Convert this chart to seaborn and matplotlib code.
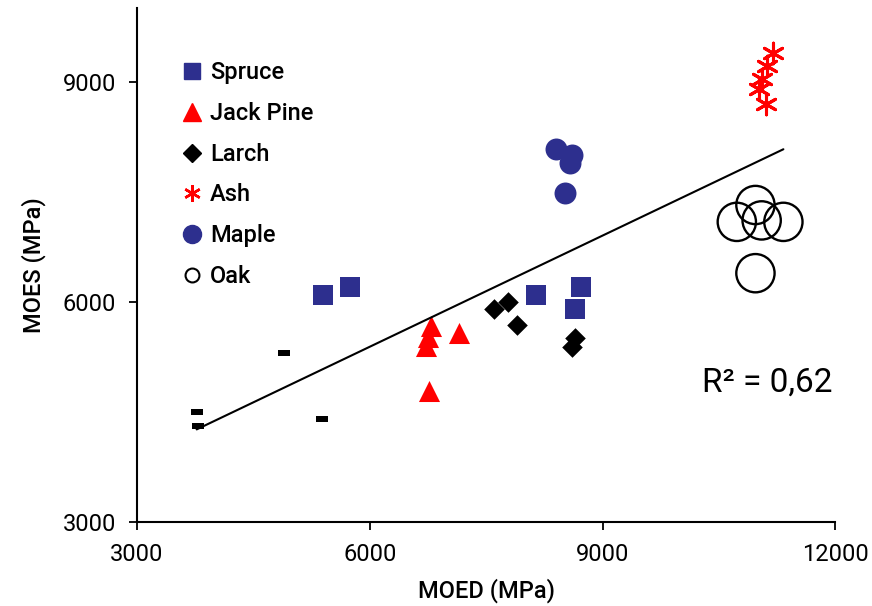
import numpy as np
import pandas as pd
import matplotlib
matplotlib.use("Agg")
import matplotlib.pyplot as plt
from matplotlib.lines import Line2D
import seaborn as sns

# values (MPa)
spruce_x = [5400, 5740, 8140, 8720, 8640]
spruce_y = [6090, 6200, 6090, 6200, 5900]
jackpine_x = [6790, 6750, 6730, 7150, 6770]
jackpine_y = [5670, 5520, 5400, 5570, 4780]
larch_x = [7600, 7780, 7900, 8640, 8610]
larch_y = [5900, 6000, 5690, 5500, 5390]
ash_x = [11190, 11120, 11060, 11010, 11110]
ash_y = [9390, 9210, 9040, 8900, 8700]
maple_x = [8400, 8610, 8580, 8520]
maple_y = [8080, 8000, 7890, 7480]
oak_x = [10970, 10730, 11050, 11330, 10970]
oak_y = [7320, 7090, 7110, 7090, 6390]
other_x = [3770, 3790, 4900, 5380]
other_y = [4500, 4300, 5300, 4400]

x_ticks = [3000, 6000, 9000, 12000]
y_ticks = [3000, 6000, 9000]
r2_label = "R\u00b2 = 0,62"

navy = "#2D2F8E"
red = "#FF0000"

sns.set_style("ticks")
plt.rcParams["font.family"] = ["Roboto", "DejaVu Sans"]
plt.rcParams["text.color"] = "black"
plt.rcParams["axes.labelcolor"] = "black"

fig, ax = plt.subplots(figsize=(8.72, 6.06), dpi=100)
fig.subplots_adjust(left=0.157, right=0.958, bottom=0.139, top=0.986)

# all points together for the regression line
all_df = pd.DataFrame({
    "MOED": spruce_x + jackpine_x + larch_x + ash_x + maple_x + oak_x + other_x,
    "MOES": spruce_y + jackpine_y + larch_y + ash_y + maple_y + oak_y + other_y,
})
sns.regplot(data=all_df, x="MOED", y="MOES", scatter=False, ci=None,
            truncate=True, color="black", line_kws={"linewidth": 1.5}, ax=ax)

dash = [(-1, -0.5), (1, -0.5), (1, 0.5), (-1, 0.5), (-1, -0.5)]
sns.scatterplot(x=other_x, y=other_y, marker=dash, s=80, color="black",
                linewidth=0, ax=ax)
sns.scatterplot(x=spruce_x, y=spruce_y, marker="s", s=200, color=navy,
                linewidth=0, ax=ax)
sns.scatterplot(x=jackpine_x, y=jackpine_y, marker="^", s=230, color=red,
                linewidth=0, ax=ax)
sns.scatterplot(x=larch_x, y=larch_y, marker="D", s=110, color="black",
                linewidth=0, ax=ax)
sns.scatterplot(x=ash_x, y=ash_y, marker=(6, 2, 0), s=220, color=red,
                linewidth=2.2, ax=ax)
sns.scatterplot(x=maple_x, y=maple_y, marker="o", s=250, color=navy,
                linewidth=0, ax=ax)
ax.scatter(oak_x, oak_y, marker="o", s=760, facecolors="none",
           edgecolors="black", linewidths=1.7, zorder=3)

handles = [
    Line2D([], [], ls="none", marker="s", ms=12, mfc=navy, mec=navy),
    Line2D([], [], ls="none", marker="^", ms=13, mfc=red, mec=red),
    Line2D([], [], ls="none", marker="D", ms=9, mfc="black", mec="black"),
    Line2D([], [], ls="none", marker=(6, 2, 0), ms=12, mec=red, mew=1.8),
    Line2D([], [], ls="none", marker="o", ms=13, mfc=navy, mec=navy),
    Line2D([], [], ls="none", marker="o", ms=10, mfc="none", mec="black", mew=1.5),
]
labels = ["Spruce", "Jack Pine", "Larch", "Ash", "Maple", "Oak"]
ax.legend(handles, labels, loc="upper left", bbox_to_anchor=(0.062, 0.897),
          frameon=False, prop={"size": 17, "weight": 500}, handlelength=1.0,
          handletextpad=0.27, labelspacing=0.75, borderaxespad=0,
          borderpad=0)

ax.text(0.809, 0.253, r2_label, transform=ax.transAxes, fontsize=24,
        va="baseline", ha="left")

ax.set_xlim(3000, 12000)
ax.set_ylim(3000, 10000)
ax.set_xticks(x_ticks)
ax.set_yticks(y_ticks)
ax.tick_params(axis="both", labelsize=17, length=6, width=1.3, pad=9,
               color="black", labelcolor="black")
ax.set_xlabel("MOED (MPa)", fontsize=17, fontweight=500, labelpad=9)
ax.set_ylabel("MOES (MPa)", fontsize=17, fontweight=500, labelpad=12)
for side in ["left", "bottom"]:
    ax.spines[side].set_linewidth(1.5)
    ax.spines[side].set_color("black")
sns.despine(ax=ax)

fig.savefig("out.png", dpi=100)
